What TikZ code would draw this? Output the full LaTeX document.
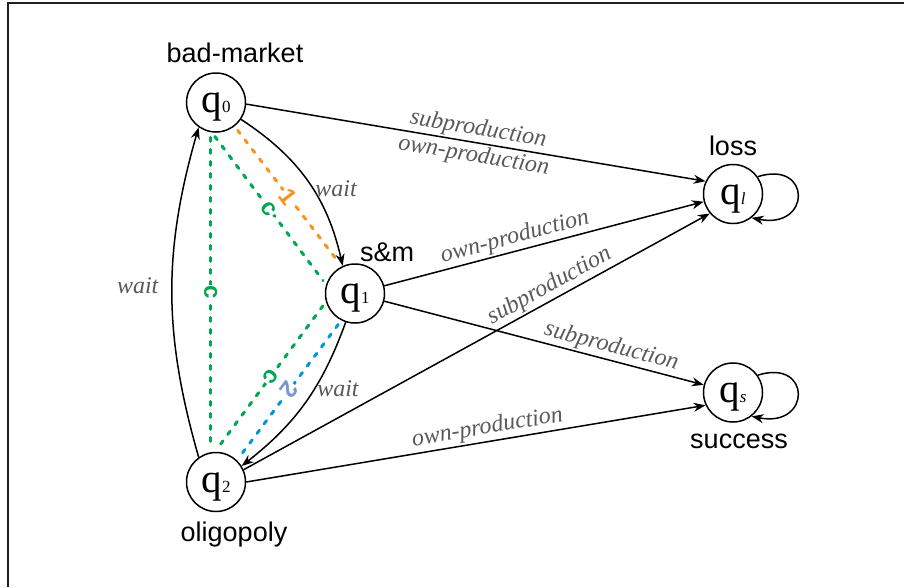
\documentclass[tikz,border=0pt]{standalone}
\usepackage{fontspec}
\setmainfont{Liberation Serif}
\setsansfont{Liberation Sans}
\usepackage{xcolor}
\usetikzlibrary{positioning,arrows.meta}

\definecolor{cgreen}{RGB}{0,166,81}
\definecolor{corange}{RGB}{247,148,29}
\definecolor{cblue}{RGB}{0,150,215}
\definecolor{clav}{RGB}{122,150,210}
\definecolor{actgray}{RGB}{89,89,91}
\definecolor{framecol}{RGB}{35,31,32}

\newcommand{\qst}[1]{q{\fontsize{17}{17}\selectfont #1}}

\begin{document}
\begin{tikzpicture}
		[on grid, >={Stealth[length=12pt,width=9pt]},
		state/.style={circle,draw=black,line width=1.5pt,inner sep=0pt,minimum size=59pt,font=\fontsize{41}{41}\selectfont,text height=28pt,text depth=8pt},
		tag/.style={font=\sffamily\fontsize{27}{27}\selectfont},
		act/.style={font=\itshape\fontsize{24}{24}\selectfont,text=actgray,inner sep=2pt},
		move/.style={->,line width=1.5pt},
		cut/.style={line width=3pt,dash pattern=on 4pt off 8pt,line cap=round,shorten <=5pt,shorten >=5pt},
		cutlabel/.style={font=\sffamily\bfseries\fontsize{24}{24}\selectfont,inner sep=1pt,fill=white,sloped,allow upside down}]
		\useasboundingbox (0pt,0pt) rectangle (904pt,-587pt);
		\draw [line width=2.3pt,framecol] (904pt,-3pt) -- (8pt,-3pt) -- (8pt,-587pt);

		\node [state] (q0) at (216pt,-102.5pt) {\qst{0}};
		\node [state] (q1) [below right=191pt and 139pt of q0] {\qst{1}};
		\node [state] (q2) [below=379.5pt of q0] {\qst{2}};
		\node [state] (ql) [below right=91.5pt and 517pt of q0] {\qst{\itshape l}};
		\node [state] (qs) [below=198.5pt of ql] {\qst{\itshape s}};

		\node [tag] (n0) [above=50pt of q0, xshift=19pt] {bad-market};
		\node [tag] (n1) [above=41.5pt of q1, xshift=32pt] {s\&m};
		\node [tag] (n2) [below=53pt of q2, xshift=18pt] {oligopoly};
		\node [tag] (nl) [above=48pt of ql] {loss};
		\node [tag] (ns) [below=48.5pt of qs, xshift=6pt] {success};

		\draw [cut, cgreen] (q0.260) -- (q2.100) node [cutlabel, midway] {c};
		\draw [cut, cgreen] (q0.262) -- (q1.163) node [cutlabel, midway] {c};
		\draw [cut, corange] (q0.-52) -- (q1.116) node [cutlabel, midway] {1};
		\draw [cut, cgreen] (q1.196) -- (q2.92) node [cutlabel, midway] {c};
		\draw [cut, cblue] (q1.243) -- (q2.46) node [cutlabel, midway, text=clav] {2};

		\draw [move] (q0.-3) -- (ql.155)
			node [act, midway, sloped, above] {subproduction}
			node [act, midway, sloped, below] {own-production};
		\draw [move] (q1) -- (ql) node [act, pos=0.42, sloped, above] {own-production};
		\draw [move] (q1) -- (qs) node [act, pos=0.7, sloped, above] {subproduction};
		\draw [move] (q2.24) -- (ql.220) node [act, pos=0.67, sloped, above] {subproduction};
		\draw [move] (q2.east) -- (qs.205) node [act, pos=0.53, sloped, above] {own-production};

		\draw [move] (q0.-34) to [bend left=22] node [act, pos=0.55, right] {wait} (q1.114);
		\draw [move] (q1.-108) to [bend left=16] node [act, pos=0.4, right] {wait} (q2.32);
		\draw [move] (q2.125) to [bend left=16] node [act, pos=0.52, left=11pt] {wait} (q0.235);

		\draw [move] (ql.35) .. controls +(54pt,17pt) and +(60pt,-12pt) .. (ql.-52);
		\draw [move] (qs.35) .. controls +(54pt,17pt) and +(60pt,-12pt) .. (qs.-52);
	\end{tikzpicture}
\end{document}
